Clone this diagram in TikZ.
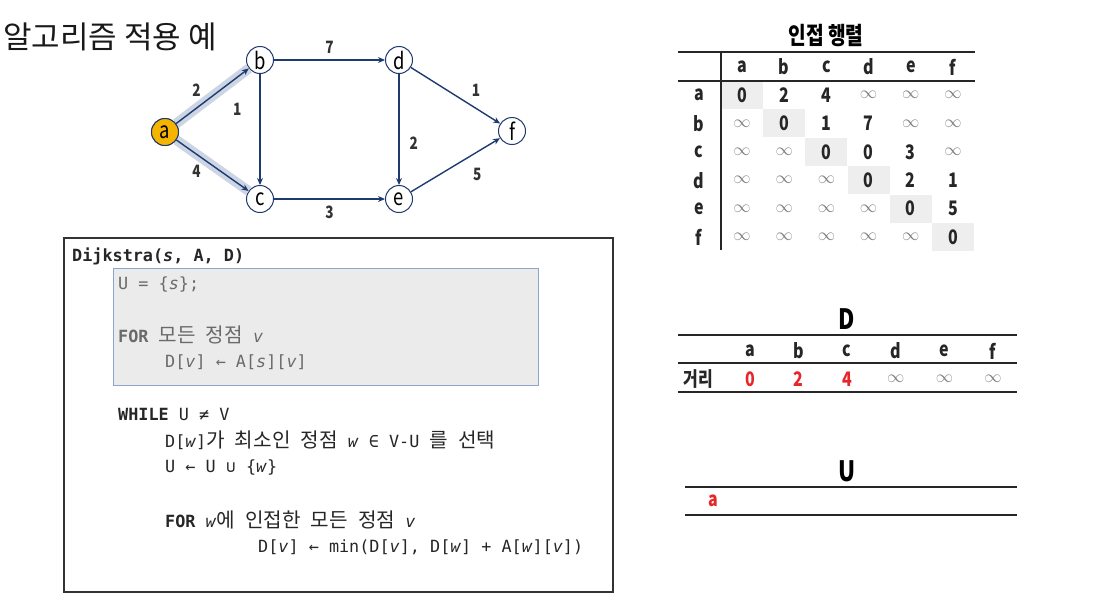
\documentclass[tikz,border=0pt]{standalone}
\usepackage{fontspec}
\setmainfont{Noto Sans CJK KR}
\setmonofont{DejaVu Sans Mono}
\newfontfamily\krfont[Scale=1.2]{Noto Sans CJK KR}
\newfontfamily\condfont[FakeStretch=0.8]{Noto Sans CJK KR}
\usetikzlibrary{arrows.meta}

\definecolor{navy}{HTML}{1F3A6E}
\definecolor{hilite}{HTML}{CCD5E4}
\definecolor{gold}{HTML}{F5B400}
\definecolor{boxgray}{HTML}{EBEBEB}
\definecolor{boxline}{HTML}{8AA6CC}
\definecolor{redval}{HTML}{E8262A}
\definecolor{codegray}{HTML}{6A6A6A}
\definecolor{diaggray}{HTML}{EEEEEE}

\newcommand{\kr}[1]{{\krfont #1}}
\newcommand{\infsym}{{\color{gray}\fontsize{18}{18}\selectfont$\infty$}}

\tikzset{
  vertex/.style={draw=navy, circle, fill=white, line width=1pt, minimum size=27pt, inner sep=0pt, font=\condfont\fontsize{23}{23}\selectfont},
  edge/.style={draw=navy, line width=1.4pt, -{Stealth[length=7pt,width=6pt]}},
  band/.style={draw=hilite, line width=10pt},
  weight/.style={font=\condfont\bfseries\fontsize{17}{17}\selectfont, text=black!80, inner sep=1pt},
  codeline/.style={anchor=west, inner sep=0pt, font=\ttfamily\fontsize{16.8}{18}\selectfont, text=black!85},
  codeline in/.style={codeline, text=codegray},
  rule/.style={line width=1.8pt, black!85},
  cell/.style={font=\condfont\bfseries\fontsize{20}{20}\selectfont, text=black!85},
}

\begin{document}
\begin{tikzpicture}[x=1pt, y=-1pt]
\useasboundingbox (0, 0) rectangle (1108, 595);

% title
\node [font=\fontsize{31}{31}\selectfont, text=black!90] (title) at (110, 37) {알고리즘 적용 예};

% graph
\node [vertex, fill=gold] (a) at (165, 132) {a};
\node [vertex] (b) at (260, 60) {b};
\node [vertex] (c) at (260, 199) {c};
\node [vertex] (d) at (399, 60) {d};
\node [vertex] (e) at (399, 199) {e};
\node [vertex] (f) at (512, 131) {f};

\draw [band] (a) -- (b);
\draw [band] (a) -- (c);
\node [vertex, fill=gold] at (a) {a};

\draw [edge] (a) -- node [weight, pos=0.4, above left=3pt] (w-ab) {2} (b);
\draw [edge] (a) -- node [weight, pos=0.4, below left=3pt] (w-ac) {4} (c);
\draw [edge] (b) -- node [weight, pos=0.32, left=17pt] (w-bc) {1} (c);
\draw [edge] (b) -- node [weight, above=5pt] (w-bd) {7} (d);
\draw [edge] (c) -- node [weight, below=5pt] (w-ce) {3} (e);
\draw [edge] (d) -- node [weight, pos=0.62, right=9pt] (w-de) {2} (e);
\draw [edge] (d) -- node [weight, pos=0.62, above right=4pt] (w-df) {1} (f);
\draw [edge] (e) -- node [weight, pos=0.6, below right=7pt] (w-ef) {5} (f);

% pseudo code
\draw [line width=1.2pt, black!80] (64, 238) rectangle (613, 592);
\draw [fill=boxgray, draw=boxline, line width=0.8pt] (113, 268) rectangle (538, 385);
\node [codeline] (l1) at (72, 256) {\bfseries Dijkstra(\textit{s}, A, D)};
\node [codeline in] (l2) at (118, 284) {U = \{\textit{s}\};};
\node [codeline in] (l3) at (118, 335) {\bfseries FOR\mdseries{} \kr{모든} \kr{정점} \textit{v}};
\node [codeline in] (l4) at (165, 362) {D[\textit{v}] ← A[\textit{s}][\textit{v}]};
\node [codeline] (l5) at (118, 414) {\bfseries WHILE\mdseries{} U ≠ V};
\node [codeline] (l6) at (165, 440) {D[\textit{w}]\kr{가} \kr{최소인} \kr{정점} \textit{w} ∈ V-U \kr{를} \kr{선택}};
\node [codeline] (l7) at (165, 467) {U ← U ∪ \{\textit{w}\}};
\node [codeline] (l8) at (165, 520) {\bfseries FOR\mdseries{} \textit{w}\kr{에} \kr{인접한} \kr{모든} \kr{정점} \textit{v}};
\node [codeline] (l9) at (258, 547) {D[\textit{v}] ← min(D[\textit{v}], D[\textit{w}] + A[\textit{w}][\textit{v}])};

% adjacency matrix
\node [font=\condfont\bfseries\fontsize{24}{24}\selectfont] (mtitle) at (826, 36) {인접 행렬};
\foreach \i in {0,...,5}
  \fill [diaggray] ({742+42.2*\i-21}, {95+28.4*\i-14}) rectangle ({742+42.2*\i+21}, {95+28.4*\i+14});
\draw [rule] (678, 52) -- (975, 52);
\draw [rule] (678, 81) -- (975, 81);
\draw [rule] (721, 52) -- (721, 250);
\foreach \n [count=\j from 0] in {a,b,c,d,e,f} {
  \node [cell] (mh-\n) at ({742+42.2*\j}, 67) {\n};
  \node [cell] (mr-\n) at (699, {95+28.4*\j}) {\n};
}
\foreach \row [count=\i from 0] in {{0,2,4,\infsym,\infsym,\infsym},
                                   {\infsym,0,1,7,\infsym,\infsym},
                                   {\infsym,\infsym,0,0,3,\infsym},
                                   {\infsym,\infsym,\infsym,0,2,1},
                                   {\infsym,\infsym,\infsym,\infsym,0,5},
                                   {\infsym,\infsym,\infsym,\infsym,\infsym,0}}
  \foreach \v [count=\j from 0] in \row
    \node [cell] (m-\i-\j) at ({742+42.2*\j}, {95+28.4*\i}) {\v};

% distance table D
\node [font=\condfont\bfseries\fontsize{28}{28}\selectfont] (dtitle) at (847, 319) {D};
\draw [rule] (678, 335) -- (1017, 335);
\draw [rule] (678, 363) -- (1017, 363);
\draw [rule] (678, 392) -- (1017, 392);
\node [cell] (dlabel) at (698, 379) {거리};
\foreach \n/\v [count=\j from 0] in {a/0,b/2,c/4,d/\infsym,e/\infsym,f/\infsym} {
  \node [cell] (dh-\n) at ({750+48.6*\j}, 351) {\n};
  \node [cell, text=redval] (dv-\n) at ({750+48.6*\j}, 379) {\v};
}

% set U
\node [font=\condfont\bfseries\fontsize{28}{28}\selectfont] (utitle) at (847, 471) {U};
\draw [rule] (685, 487) -- (1017, 487);
\draw [rule] (685, 515) -- (1017, 515);
\node [cell, text=redval] (u-a) at (713, 501) {a};
\end{tikzpicture}
\end{document}
